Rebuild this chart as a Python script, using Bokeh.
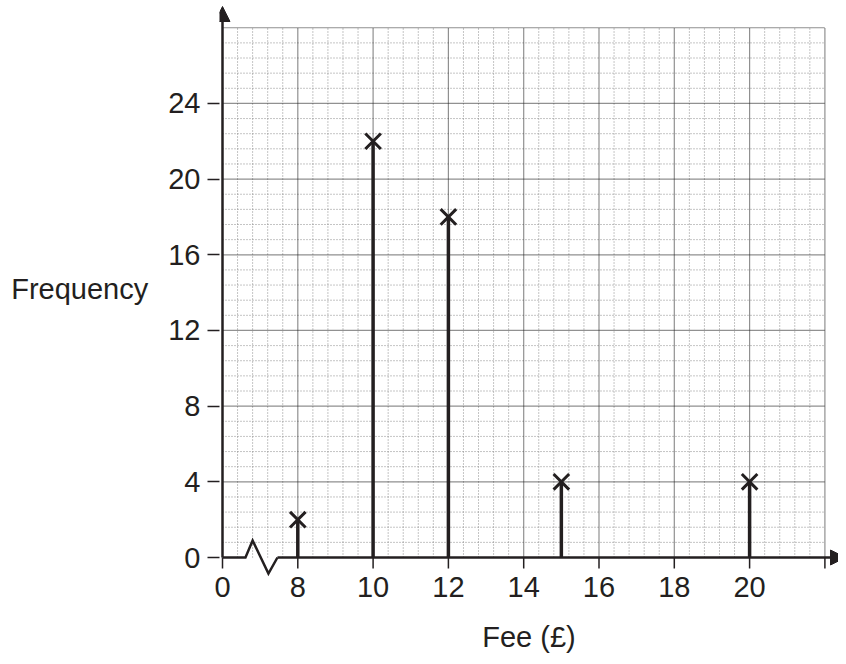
import numpy as np
from bokeh.plotting import figure
from bokeh.models import Range1d, FixedTicker, Arrow, NormalHead
from bokeh.embed import file_html
from bokeh.resources import INLINE

# ---- data ----
fees = [8, 10, 12, 15, 20]
frequencies = [2, 22, 18, 4, 4]
fee_ticks = [0, 8, 10, 12, 14, 16, 18, 20, 22]
fee_tick_labels = ["0", "8", "10", "12", "14", "16", "18", "20", ""]
freq_ticks = [0, 4, 8, 12, 16, 20, 24]
freq_top = 28


def fee_pos(f):
    # broken axis: 0, then a jump to 8, 10, 12, ... (one unit per 2 pounds)
    return 0.0 if f == 0 else (f - 6) / 2.0


INK = "#231f20"
FONT = "Liberation Sans"
FS = "29px"
PX_X = 75.3   # pixels per position unit
PX_Y = 18.92  # pixels per frequency unit
X0, Y0 = 222, 557  # pixel location of the origin
W, H = 838, 656
BOTTOM = 80        # height of the panel below the frame

pos_ticks = [fee_pos(f) for f in fee_ticks]
pos_data = [fee_pos(f) for f in fees]
x_max = pos_ticks[-1]

p = figure(width=W, height=H, output_backend="svg", toolbar_location=None,
           x_range=Range1d(-3 / PX_X, (W - X0) / PX_X),
           y_range=Range1d(-(H - BOTTOM - Y0) / PX_Y, Y0 / PX_Y),
           min_border_left=X0 - 3, min_border_right=0, min_border_top=0,
           min_border_bottom=BOTTOM, outline_line_color=None,
           background_fill_color="white", border_fill_color="white")
p.xgrid.visible = False
p.ygrid.visible = False

# ---- graph-paper grid ----
minor_x = [v for v in np.round(np.arange(0, x_max + 1e-9, 0.2), 3) if abs(v - round(v)) > 1e-6]
major_x = [v for v in range(1, int(x_max) + 1)]
minor_y = [v for v in np.round(np.arange(0, freq_top + 1e-9, 0.8), 3) if abs(v / 4 - round(v / 4)) > 1e-6]
major_y = [v for v in range(4, freq_top + 1, 4)]

p.segment(x0=minor_x, y0=0, x1=minor_x, y1=freq_top, line_color="#8a8a8a",
          line_width=1, line_dash="1 2")
p.segment(x0=0, y0=minor_y, x1=x_max, y1=minor_y, line_color="#8a8a8a",
          line_width=1, line_dash="1 2")
p.segment(x0=major_x, y0=0, x1=major_x, y1=freq_top, line_color="#222222",
          line_width=1.2, line_dash="1 1")
p.segment(x0=0, y0=major_y, x1=x_max, y1=major_y, line_color="#222222",
          line_width=1.2, line_dash="1 1")

# ---- axes lines, break mark, arrows ----
brk_x = [0, 0.305, 0.40, 0.61, 0.73]
brk_y = [0, 0, 0.90, -0.85, 0]
p.line(brk_x, brk_y, line_color=INK, line_width=2.5, line_join="miter")
p.add_layout(Arrow(end=NormalHead(size=15, fill_color=INK, line_color=INK, line_width=1),
                   x_start=0.73, y_start=0, x_end=(845 - X0) / PX_X, y_end=0,
                   line_color=INK, line_width=2.5))
p.add_layout(Arrow(end=NormalHead(size=15, fill_color=INK, line_color=INK, line_width=1),
                   x_start=0, y_start=0, x_end=0, y_end=(Y0 - 6) / PX_Y,
                   line_color=INK, line_width=2.5))
# x tick marks (below the axis line)
p.segment(x0=pos_ticks, y0=0, x1=pos_ticks, y1=-11 / PX_Y, line_color=INK, line_width=1.5)

# ---- vertical line chart ----
p.segment(x0=pos_data, y0=0, x1=pos_data, y1=frequencies, line_color=INK, line_width=3.5)
p.scatter(pos_data, frequencies, marker="x", size=22, line_color=INK, line_width=3)

# ---- axis text ----
xa = p.xaxis[0]
xa.ticker = FixedTicker(ticks=pos_ticks, minor_ticks=[])
xa.major_label_overrides = {pt: lab for pt, lab in zip(pos_ticks, fee_tick_labels)}
xa.axis_line_color = None
xa.major_tick_line_color = None
xa.minor_tick_line_color = None
xa.major_tick_out = 0
xa.major_tick_in = 0
xa.major_label_standoff = 0
xa.major_label_text_font = FONT
xa.major_label_text_font_size = FS
xa.major_label_text_color = INK
xa.axis_label = "Fee (£)"
xa.axis_label_text_font = FONT
xa.axis_label_text_font_size = FS
xa.axis_label_text_font_style = "normal"
xa.axis_label_text_color = INK
xa.axis_label_standoff = 21

ya = p.yaxis[0]
ya.ticker = FixedTicker(ticks=freq_ticks, minor_ticks=[])
ya.axis_line_color = None
ya.major_tick_line_color = INK
ya.major_tick_line_width = 1.5
ya.minor_tick_line_color = None
ya.major_tick_out = 12
ya.major_tick_in = 0
ya.major_label_standoff = 7
ya.major_label_text_font = FONT
ya.major_label_text_font_size = FS
ya.major_label_text_color = INK
ya.axis_label = "Frequency"
ya.axis_label_orientation = "horizontal"
ya.axis_label_text_font = FONT
ya.axis_label_text_font_size = FS
ya.axis_label_text_font_style = "normal"
ya.axis_label_text_color = INK
ya.axis_label_standoff = 17

open("out.html", "w").write(file_html(p, INLINE))
